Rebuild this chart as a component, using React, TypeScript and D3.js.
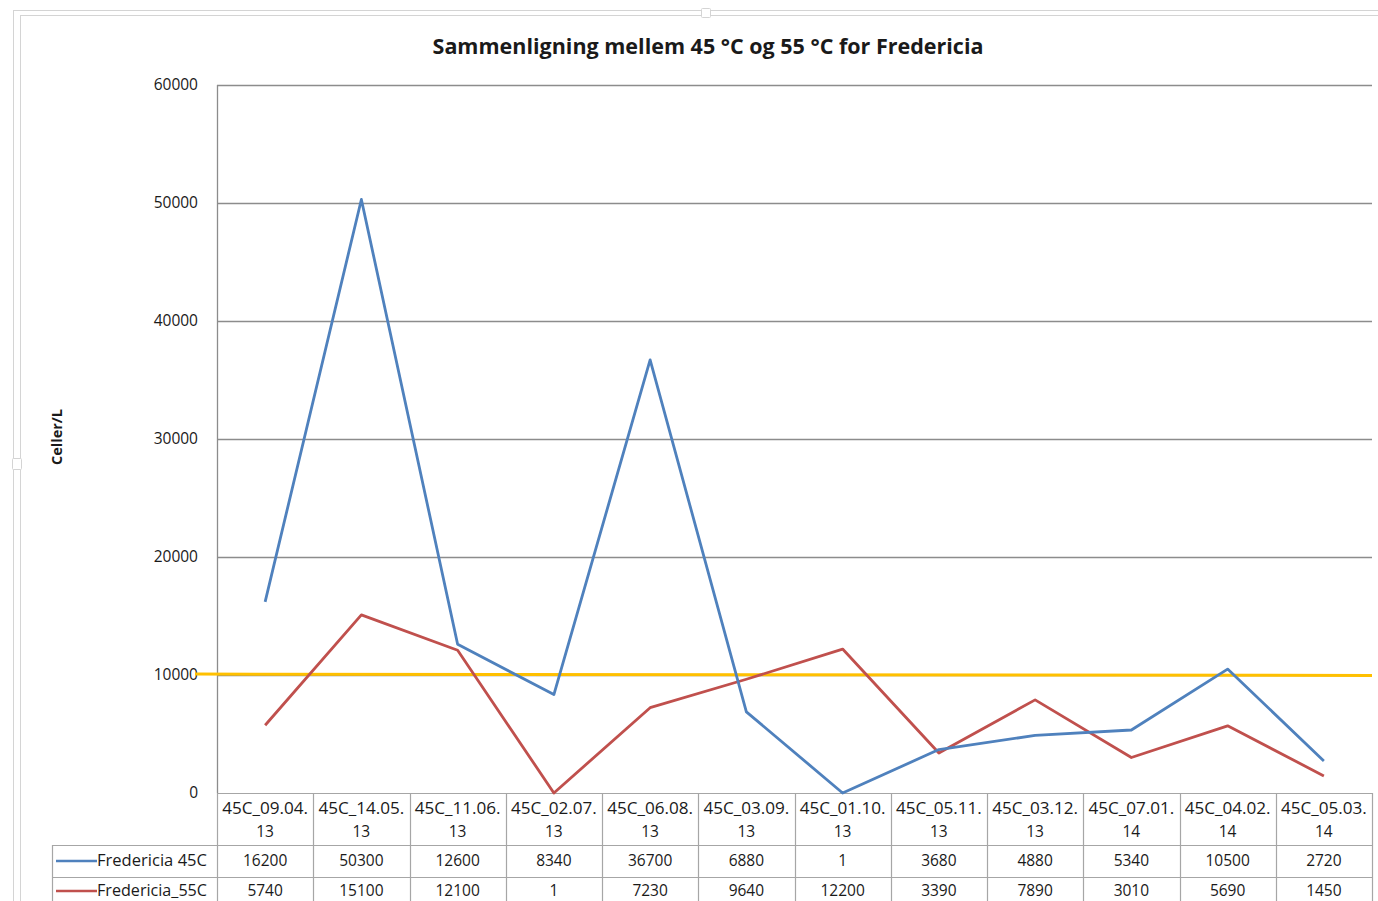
import React, { useEffect, useRef } from "react";
import * as d3 from "d3";

// values
const categories = [
  "45C_09.04.|13", "45C_14.05.|13", "45C_11.06.|13", "45C_02.07.|13",
  "45C_06.08.|13", "45C_03.09.|13", "45C_01.10.|13", "45C_05.11.|13",
  "45C_03.12.|13", "45C_07.01.|14", "45C_04.02.|14", "45C_05.03.|14",
];
const fredericia45 = [16200, 50300, 12600, 8340, 36700, 6880, 1, 3680, 4880, 5340, 10500, 2720];
const fredericia55 = [5740, 15100, 12100, 1, 7230, 9640, 12200, 3390, 7890, 3010, 5690, 1450];
const seriesNames = ["Fredericia 45C", "Fredericia_55C"];
const yTicks = [0, 10000, 20000, 30000, 40000, 50000, 60000];
// hand drawn threshold line (start / end value)
const threshold = [10080, 9960];

const W = 1378;
const H = 901;
const FONT = "'Open Sans', 'Noto Sans', sans-serif";
const FS = 15.5;

export default function App() {
  const ref = useRef<SVGSVGElement>(null);

  useEffect(() => {
    const svg = d3.select(ref.current);
    svg.selectAll("*").remove();

    const m = { left: 217, right: 1372, top: 85, bottom: 793 };
    const x = d3.scaleBand<number>().domain(d3.range(categories.length)).range([m.left, m.right]);
    const y = d3.scaleLinear().domain([0, 60000]).range([m.bottom, m.top]);
    const gridCol = "#8c8c8c";
    const tableCol = "#a6a6a6";

    // frame of the embedded chart
    const frame = svg.append("g").attr("fill", "none").attr("stroke", "#d4d4d4");
    frame.append("line").attr("x1", 13).attr("x2", W).attr("y1", 10.5).attr("y2", 10.5);
    frame.append("line").attr("x1", 20).attr("x2", W).attr("y1", 15.5).attr("y2", 15.5);
    frame.append("line").attr("x1", 13.5).attr("x2", 13.5).attr("y1", 10).attr("y2", H);
    frame.append("line").attr("x1", 20.5).attr("x2", 20.5).attr("y1", 15).attr("y2", H);
    frame.append("rect").attr("x", 701.5).attr("y", 8.5).attr("width", 9).attr("height", 9).attr("fill", "#fff").attr("rx", 1);
    frame.append("rect").attr("x", 12.5).attr("y", 458.5).attr("width", 9).attr("height", 11).attr("fill", "#fff").attr("rx", 1);

    svg.append("text")
      .attr("x", 708).attr("y", 54)
      .attr("text-anchor", "middle")
      .attr("font-family", FONT).attr("font-weight", 700).attr("font-size", 21.5)
      .attr("fill", "#1a1a1a")
      .text("Sammenligning mellem 45 °C og 55 °C for Fredericia");

    svg.append("text")
      .attr("transform", "translate(62,437) rotate(-90)")
      .attr("text-anchor", "middle")
      .attr("font-family", FONT).attr("font-weight", 700).attr("font-size", 14.5)
      .attr("fill", "#1a1a1a")
      .text("Celler/L");

    // gridlines
    svg.append("g").selectAll("line").data(yTicks.filter((t) => t > 0)).join("line")
      .attr("x1", m.left).attr("x2", m.right)
      .attr("y1", (d) => Math.round(y(d)) + 0.5).attr("y2", (d) => Math.round(y(d)) + 0.5)
      .attr("stroke", gridCol).attr("stroke-width", 1.3);

    svg.append("line")
      .attr("x1", m.left + 0.5).attr("x2", m.left + 0.5).attr("y1", m.top).attr("y2", m.bottom)
      .attr("stroke", gridCol).attr("stroke-width", 1.3);

    svg.append("g").selectAll("text").data(yTicks).join("text")
      .attr("x", 198).attr("y", (d) => y(d) + 5)
      .attr("text-anchor", "end")
      .attr("font-family", FONT).attr("font-size", FS).attr("fill", "#1a1a1a")
      .text((d) => String(d));

    // data table
    const rowTop = m.bottom;
    const rowH1 = 845;
    const rowH2 = 877;
    const tbl = svg.append("g").attr("stroke", tableCol).attr("stroke-width", 1.2);
    tbl.append("line").attr("x1", m.left).attr("x2", m.right).attr("y1", rowTop + 0.5).attr("y2", rowTop + 0.5);
    tbl.append("line").attr("x1", 52).attr("x2", m.right).attr("y1", rowH1 + 0.5).attr("y2", rowH1 + 0.5);
    tbl.append("line").attr("x1", 52).attr("x2", m.right).attr("y1", rowH2 + 0.5).attr("y2", rowH2 + 0.5);
    tbl.append("line").attr("x1", 52.5).attr("x2", 52.5).attr("y1", rowH1).attr("y2", H);
    tbl.selectAll("line.col").data(d3.range(categories.length + 1)).join("line")
      .attr("class", "col")
      .attr("x1", (i) => Math.round(m.left + x.step() * i) + 0.5)
      .attr("x2", (i) => Math.round(m.left + x.step() * i) + 0.5)
      .attr("y1", rowTop).attr("y2", H);

    const hdr = svg.append("g").attr("font-family", FONT).attr("font-size", FS)
      .attr("fill", "#1a1a1a").attr("text-anchor", "middle");
    categories.forEach((c, i) => {
      const [a, b] = c.split("|");
      const cx = x(i)! + x.bandwidth() / 2;
      hdr.append("text").attr("x", cx).attr("y", 814).attr("textLength", 86).attr("lengthAdjust", "spacingAndGlyphs").text(a);
      hdr.append("text").attr("x", cx).attr("y", 837).text(b);
    });

    const colors = ["#4f81bd", "#c0504d"];
    const allSeries = [fredericia45, fredericia55];
    const rowY = [866, 896];
    allSeries.forEach((s, k) => {
      svg.append("g").selectAll("text").data(s).join("text")
        .attr("x", (_, i) => x(i)! + x.bandwidth() / 2).attr("y", rowY[k])
        .attr("text-anchor", "middle")
        .attr("font-family", FONT).attr("font-size", FS).attr("fill", "#1a1a1a")
        .text((d) => String(d));
      svg.append("line")
        .attr("x1", 56).attr("x2", 97).attr("y1", rowY[k] - 5).attr("y2", rowY[k] - 5)
        .attr("stroke", colors[k]).attr("stroke-width", 2.5);
      svg.append("text")
        .attr("x", 97).attr("y", rowY[k])
        .attr("font-family", FONT).attr("font-size", FS).attr("fill", "#1a1a1a")
        .attr("textLength", 110).attr("lengthAdjust", "spacingAndGlyphs")
        .text(seriesNames[k]);
    });

    // threshold line
    svg.append("line")
      .attr("x1", 195).attr("x2", m.right)
      .attr("y1", y(threshold[0])).attr("y2", y(threshold[1]))
      .attr("stroke", "#ffc000").attr("stroke-width", 3);

    const line = d3.line<number>()
      .x((_, i) => x(i)! + x.bandwidth() / 2)
      .y((d) => y(d));

    // 55C drawn first, 45C on top
    [1, 0].forEach((k) => {
      svg.append("path")
        .datum(allSeries[k])
        .attr("d", line)
        .attr("fill", "none")
        .attr("stroke", colors[k])
        .attr("stroke-width", 2.8)
        .attr("stroke-linejoin", "round");
    });
  }, []);

  return (
    <svg
      ref={ref}
      width={W}
      height={H}
      style={{ position: "absolute", left: 0, top: 0, background: "#fff" }}
    />
  );
}
